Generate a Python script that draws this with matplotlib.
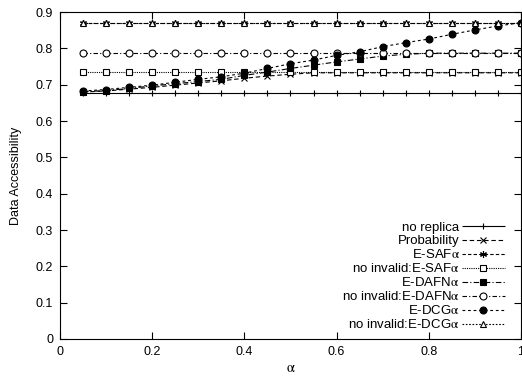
import matplotlib
matplotlib.use('Agg')
import matplotlib.pyplot as plt

plt.rcParams['font.family'] = ['Liberation Sans', 'DejaVu Sans']
plt.rcParams['mathtext.fontset'] = 'stix'

alpha = [0.05, 0.1, 0.15, 0.2, 0.25, 0.3, 0.35, 0.4, 0.45, 0.5,
         0.55, 0.6, 0.65, 0.7, 0.75, 0.8, 0.85, 0.9, 0.95, 1.0]

no_replica = [0.678] * 20
probability = [0.680, 0.683, 0.688, 0.693, 0.699, 0.705, 0.711, 0.718, 0.724, 0.729,
               0.733, 0.733, 0.733, 0.733, 0.733, 0.733, 0.733, 0.733, 0.733, 0.733]
e_saf = [0.871] * 20
ni_e_saf = [0.734] * 20
e_dafn = [0.681, 0.684, 0.690, 0.697, 0.703, 0.709, 0.715, 0.726, 0.735, 0.745,
          0.754, 0.763, 0.771, 0.779, 0.784, 0.787, 0.787, 0.787, 0.787, 0.787]
ni_e_dafn = [0.788] * 20
e_dcg = [0.683, 0.687, 0.693, 0.699, 0.707, 0.715, 0.722, 0.732, 0.745, 0.758,
         0.768, 0.781, 0.791, 0.805, 0.816, 0.826, 0.839, 0.851, 0.862, 0.871]
ni_e_dcg = [0.871] * 20

A = r'$\mathrm{\alpha}$'
series = [
    ('no replica', no_replica, '+', 'k', (0, ())),
    ('Probability', probability, 'x', 'k', (0, (4, 2.5))),
    ('E-SAF' + A, e_saf, (6, 2, 0), 'k', (0, (3, 2))),
    ('no invalid:E-SAF' + A, ni_e_saf, 's', 'white', (0, (1, 1))),
    ('E-DAFN' + A, e_dafn, 's', 'k', (0, (5, 2, 1, 2))),
    ('no invalid:E-DAFN' + A, ni_e_dafn, 'o', 'white', (0, (4, 2, 1, 2))),
    ('E-DCG' + A, e_dcg, 'o', 'k', (0, (2.5, 2.5))),
    ('no invalid:E-DCG' + A, ni_e_dcg, '^', 'white', (0, (1.5, 1.5))),
]

fig = plt.figure(figsize=(5.22, 3.80), dpi=100)
ax = fig.add_axes([0.115, 0.108, 0.883, 0.860])

for label, ys, mk, fc, ls in series:
    ax.plot(alpha, ys, linestyle=ls, color='k', linewidth=0.8,
            marker=mk, markersize=5, markerfacecolor=fc,
            markeredgecolor='k', markeredgewidth=0.8, label=label)

ax.set_xlim(0, 1)
ax.set_ylim(0, 0.9)
ax.set_xticks([0, 0.2, 0.4, 0.6, 0.8, 1])
ax.set_xticklabels(['0', '0.2', '0.4', '0.6', '0.8', '1'])
ax.set_yticks([0, 0.1, 0.2, 0.3, 0.4, 0.5, 0.6, 0.7, 0.8, 0.9])
ax.set_yticklabels(['0', '0.1', '0.2', '0.3', '0.4', '0.5', '0.6', '0.7', '0.8', '0.9'])
ax.tick_params(direction='in', top=True, right=True, length=5, width=0.8,
               labelsize=9, pad=5)
for sp in ax.spines.values():
    sp.set_linewidth(0.8)

ax.set_xlabel(A, fontsize=10.5, labelpad=2)
ax.set_ylabel('Data Accessibility', fontsize=9, labelpad=10)

ax.legend(loc='lower right', bbox_to_anchor=(1.0, -0.0245), frameon=False,
          markerfirst=False, fontsize=9.5, handlelength=3.3, labelspacing=0.075,
          handletextpad=0.15, borderaxespad=0.8)

fig.savefig('out.png', dpi=100)
